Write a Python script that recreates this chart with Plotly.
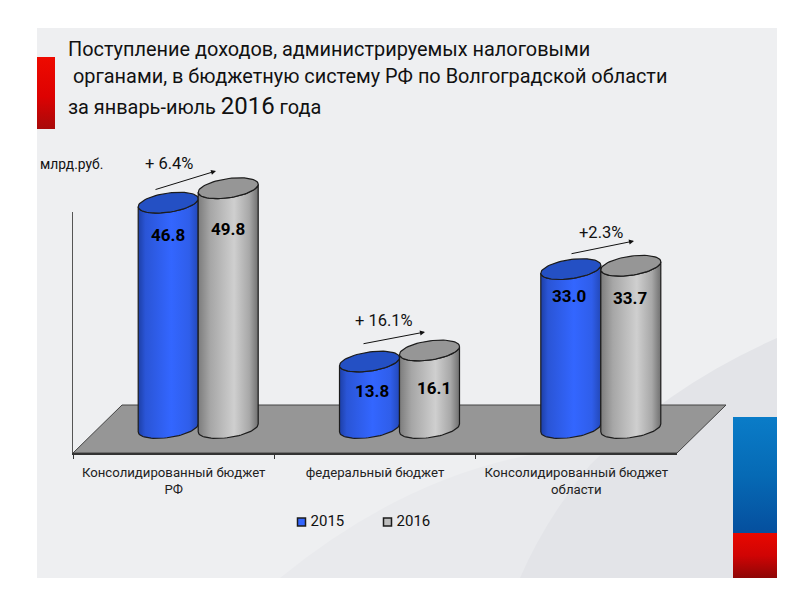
import numpy as np
import plotly.graph_objects as go

categories = ['Консолидированный бюджет<br>РФ', 'федеральный бюджет', 'Консолидированный бюджет<br>области']
years = ['2015', '2016']
values_2015 = [46.8, 13.8, 33.0]
values_2016 = [49.8, 16.1, 33.7]
growth_labels = ['+ 6.4%', '+ 16.1%', '+2.3%']
title_lines = [
    'Поступление доходов, администрируемых налоговыми',
    ' органами, в бюджетную систему РФ по Волгоградской области',
    'за январь-июль <span style="font-size:24px">2016</span> года',
]

FONT = 'Roboto'
W, H = 800, 600
# cylinders: zero sits at y=428px, 4.815px per billion
ZERO_PX = 428
PX_PER_UNIT = 4.815
CAT_PX = 201.3
FIRST_CAT_PX = 198.2
HALF_W = 30 / CAT_PX
RY = 9.6 / PX_PER_UNIT
TILT = 4 / PX_PER_UNIT

BLUE_SIDE = [[0, '#1d3fa6'], [0.12, '#2a55d6'], [0.55, '#3366ff'], [0.85, '#2f5eea'], [1, '#2348b8']]
GRAY_SIDE = [[0, '#7c7c7c'], [0.2, '#a6a6a6'], [0.6, '#cfcfcf'], [0.85, '#a8a8a8'], [1, '#707070']]
BLUE_TOP = '#2450c4'
GRAY_TOP = '#969696'
EDGE = '#1c1c1c'


def add_cylinder(fig, cx, value, side, top):
    # body outline: front half of the base ellipse, then front half of the top one
    t = np.linspace(np.pi, 2 * np.pi, 40)
    ex = cx + HALF_W * np.cos(t)
    low = RY * np.sin(t) + TILT * np.cos(t)
    xs = np.concatenate([ex, ex[::-1], ex[:1]])
    ys = np.concatenate([low, (value + low)[::-1], low[:1]])
    fig.add_trace(go.Scatter(x=xs, y=ys, mode='lines', fill='toself',
                             fillgradient=dict(type='horizontal', colorscale=side),
                             line=dict(color=EDGE, width=1.2), showlegend=False,
                             hoverinfo='skip', xaxis='x3', yaxis='y3'))
    a = np.linspace(0, 2 * np.pi, 70)
    fig.add_trace(go.Scatter(x=cx + HALF_W * np.cos(a),
                             y=value + RY * np.sin(a) + TILT * np.cos(a),
                             mode='lines', fill='toself', fillcolor=top,
                             line=dict(color=EDGE, width=1.2), showlegend=False,
                             hoverinfo='skip', xaxis='x3', yaxis='y3'))


def px_x(p):
    return p / W


def px_y(p):
    return 1 - p / H


fig = go.Figure()


# side blocks, in page pixels
def add_block(x0, x1, y0, y1, colors):
    fig.add_trace(go.Scatter(x=[x0, x1, x1, x0, x0], y=[y0, y0, y1, y1, y0], mode='lines',
                             fill='toself', line=dict(width=0),
                             fillgradient=dict(type='vertical', colorscale=colors),
                             showlegend=False, hoverinfo='skip'))


add_block(37, 55, 57, 129, [[0, '#a80a0a'], [0.45, '#dd0202'], [1, '#ee0a00']])
add_block(733, 777, 417, 533, [[0, '#054f9e'], [0.5, '#066ab5'], [1, '#0a7cc8']])
add_block(733, 777, 533, 578, [[0, '#8e0606'], [0.5, '#d00404'], [1, '#e80800']])

# key drawn by hand: the built-in legend keeps too wide a gap before the text
fig.add_trace(go.Scatter(x=[301.5, 387.5], y=[522, 522], mode='markers+text',
                         text=['\u2009' + y for y in years], textposition='middle right',
                         textfont=dict(family=FONT, size=15, color='#111111'),
                         marker=dict(symbol='square', size=8, color=['#3366ff', '#bdbdbd'],
                                     line=dict(color=EDGE, width=1.5)),
                         showlegend=False, hoverinfo='skip'))

# invisible trace just to keep the front axes alive
fig.add_trace(go.Scatter(x=categories, y=[0, 0, 0], mode='markers', marker=dict(opacity=0),
                         showlegend=False, hoverinfo='skip', xaxis='x2', yaxis='y2'))

for i in range(len(categories)):
    add_cylinder(fig, i - HALF_W, values_2015[i], BLUE_SIDE, BLUE_TOP)
    add_cylinder(fig, i + HALF_W, values_2016[i], GRAY_SIDE, GRAY_TOP)

annotations = []
for text, x, y in zip(title_lines, [66, 66, 66], [49, 76, 106]):
    annotations.append(dict(text=text, xref='paper', yref='paper', x=px_x(x), y=px_y(y),
                            xanchor='left', yanchor='middle', showarrow=False,
                            font=dict(family=FONT, size=19.9, color='#111111')))
annotations.append(dict(text='млрд.руб.', xref='paper', yref='paper', x=px_x(38), y=px_y(164),
                        xanchor='left', yanchor='middle', showarrow=False,
                        font=dict(family=FONT, size=13.8, color='#111111')))

# value labels, moved from the cylinder top
yshift_2015 = [-32, -29, -27]
yshift_2016 = [-41, -38, -32]
xshift_2015 = [0, 2, -2]
xshift_2016 = [0, 4, -1]
for i in range(len(categories)):
    for cx, vals, ys, xs in ((i - HALF_W, values_2015, yshift_2015, xshift_2015),
                             (i + HALF_W, values_2016, yshift_2016, xshift_2016)):
        annotations.append(dict(text='<b>%.1f</b>' % vals[i], x=cx, y=vals[i], xref='x3', yref='y3',
                                yshift=ys[i], xshift=xs[i], showarrow=False,
                                font=dict(family=FONT, size=17, color='#000000')))

# growth text and arrows
label_pos = [(169, 163), (384, 320), (601, 232)]
arrows = [((154, 190), (216, 171)), ((362, 344), (425, 332)), ((570, 254), (634, 241))]
for label, (lx, ly), (a, b) in zip(growth_labels, label_pos, arrows):
    annotations.append(dict(text=label, xref='paper', yref='paper', x=px_x(lx), y=px_y(ly),
                            xanchor='center', yanchor='middle',
                            showarrow=False, font=dict(family=FONT, size=16.5, color='#111111')))
    annotations.append(dict(text='', xref='paper', yref='paper', x=px_x(b[0]), y=px_y(b[1]),
                            axref='pixel', ayref='pixel', ax=a[0] - b[0], ay=a[1] - b[1],
                            showarrow=True, arrowhead=2, arrowsize=1, arrowwidth=1, arrowcolor='#111111',
                            standoff=0, startstandoff=0))

BG = '#eeeff1'
shapes = [
    dict(type='rect', xref='paper', yref='paper', x0=px_x(37), x1=px_x(777), y0=px_y(578), y1=px_y(28),
         fillcolor=BG, line=dict(width=0), layer='below'),
    dict(type='path', xref='paper', yref='paper', layer='below', line=dict(width=0), fillcolor='#e9eaed',
         path='M %f %f Q %f %f %f %f L %f %f L %f %f Z' % (
             px_x(530), px_y(455), px_x(400), px_y(480), px_x(280), px_y(578),
             px_x(733), px_y(578), px_x(733), px_y(455))),
    dict(type='path', xref='paper', yref='paper', layer='below', line=dict(width=0), fillcolor='#e3e4e8',
         path='M %f %f Q %f %f %f %f Q %f %f %f %f L %f %f Z' % (
             px_x(777), px_y(338), px_x(670), px_y(385), px_x(590), px_y(465),
             px_x(545), px_y(520), px_x(520), px_y(578),
             px_x(777), px_y(578))),
    # floor
    dict(type='path', xref='paper', yref='paper', layer='below', fillcolor='#969696',
         line=dict(color='#444444', width=1),
         path='M %f %f L %f %f L %f %f L %f %f Z' % (
             px_x(73), px_y(453), px_x(122), px_y(405), px_x(726), px_y(405), px_x(677), px_y(453))),
]

hidden = dict(visible=False, fixedrange=True, automargin=False)
fig.update_layout(
    width=W, height=H, margin=dict(l=0, r=0, t=0, b=0), autosize=False,
    paper_bgcolor='white', plot_bgcolor='rgba(0,0,0,0)', showlegend=False,
    shapes=shapes, annotations=annotations, hovermode=False,
    font=dict(family=FONT, color='#222222'),
    # page pixels for the side blocks and the key
    xaxis=dict(range=[0, W], domain=[0, 1], **hidden),
    yaxis=dict(range=[H, 0], domain=[0, 1], **hidden),
    # front axes with the category labels
    xaxis2=dict(domain=[px_x(73), px_x(677)], anchor='y2', type='category', tickson='boundaries',
                range=[-0.5, len(categories) - 0.5],
                showline=True, linecolor='#333333', linewidth=1.5, ticks='outside', ticklen=4,
                tickcolor='#333333', showgrid=False, fixedrange=True, automargin=False, ticklabelstandoff=6,
                tickfont=dict(family=FONT, size=13.2, color='#222222')),
    yaxis2=dict(domain=[px_y(453), px_y(212)], anchor='x2', range=[0, 1], showline=True,
                linecolor='#555555', linewidth=1, showticklabels=False, ticks='', showgrid=False,
                zeroline=False, fixedrange=True, automargin=False),
    # the cylinders sit half a floor depth behind the front axis
    xaxis3=dict(range=[-FIRST_CAT_PX / CAT_PX, (W - FIRST_CAT_PX) / CAT_PX], domain=[0, 1], anchor='y3', **hidden),
    yaxis3=dict(range=[(ZERO_PX - H) / PX_PER_UNIT, ZERO_PX / PX_PER_UNIT], domain=[0, 1], anchor='x3', **hidden),
)

fig.write_html("out.html", config=dict(displayModeBar=False), post_script="document.body.style.margin='0';")
